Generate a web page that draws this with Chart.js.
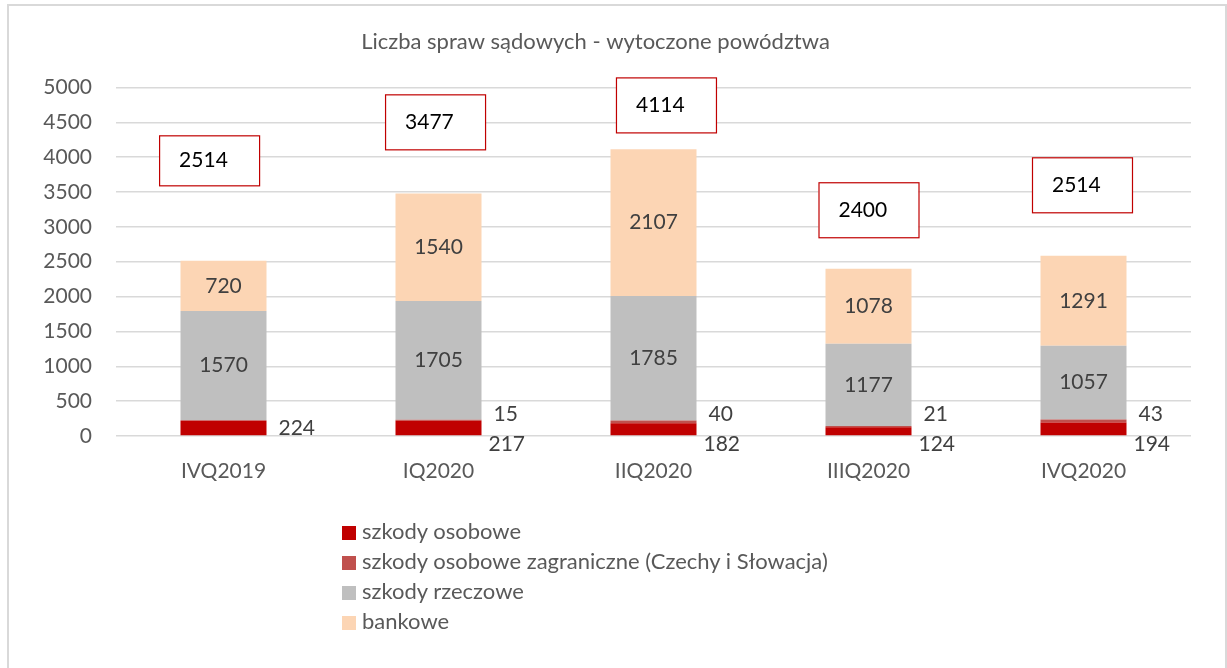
<!DOCTYPE html>
<html>
<head>
<meta charset="utf-8">
<script src="https://cdn.jsdelivr.net/npm/chart.js@4"></script>
<style>
  body { margin: 0; background: #fff; font-family: Lato, sans-serif; }
  #wrap { position: relative; width: 1227px; height: 668px; overflow: hidden; }
  #frame { position: absolute; left: 7px; top: 4px; width: 1216px; height: 700px; border: 2px solid #d9d9d9; }
  #legend { position: absolute; left: 342px; top: 516px; color: #595959; font-size: 22px; }
  #legend div { height: 30px; line-height: 30px; white-space: nowrap; }
  #legend span { display: inline-block; width: 14px; height: 14px; margin-right: 6px; vertical-align: -1px; }
  canvas { position: absolute; left: 0; top: 0; }
</style>
</head>
<body>
<div id="wrap">
  <div id="frame"></div>
  <canvas id="courtChart" width="1227" height="668"></canvas>
  <div id="legend"></div>
</div>
<script>
const quarters = ["IVQ2019", "IQ2020", "IIQ2020", "IIIQ2020", "IVQ2020"];
const personal = [224, 217, 182, 124, 194];
const personalAbroad = [0, 15, 40, 21, 43];
const material = [1570, 1705, 1785, 1177, 1057];
const banking = [720, 1540, 2107, 1078, 1291];
// totals as written in the boxes (last one is 2514 in the source too)
const totalLabels = ["2514", "3477", "4114", "2400", "2514"];
// where the total boxes sit: shift in categories, height in axis units
const boxShift = [-0.067, -0.016, 0.058, 0, -0.007];
const boxLevel = [3954, 4506, 4749, 3245, 3603];

const labelFont = '21px Lato, sans-serif';

const valueLabels = {
    id: 'valueLabels',
    afterDatasetsDraw(chart) {
        const c = chart.ctx;
        const y = chart.scales.y;
        const x = chart.scales.x;
        c.save();
        c.font = labelFont;
        c.fillStyle = '#404040';
        c.textBaseline = 'middle';

        // inner labels for grey and peach parts
        [2, 3].forEach(d => {
            chart.getDatasetMeta(d).data.forEach((bar, i) => {
                c.textAlign = 'center';
                c.fillText(chart.data.datasets[d].data[i], bar.x, (bar.y + bar.base) / 2);
            });
        });

        // red parts get labels beside the bar
        const base = y.getPixelForValue(0);
        chart.getDatasetMeta(0).data.forEach((bar, i) => {
            const right = bar.x + bar.width / 2;
            c.textAlign = 'left';
            if (personalAbroad[i] > 0) {
                c.fillText(personalAbroad[i], right + 12, base - 22);
                c.fillText(personal[i], right + 7, base + 8);
            } else {
                c.fillText(personal[i], right + 12, (bar.y + bar.base) / 2);
            }
        });

        // total boxes
        totalLabels.forEach((t, i) => {
            const cx = x.getPixelForValue(i + boxShift[i]);
            const cy = y.getPixelForValue(boxLevel[i]);
            const w = 100, h = i === 0 ? 50 : 55;
            c.fillStyle = '#fff';
            c.fillRect(cx - w / 2, cy - h / 2, w, h);
            c.strokeStyle = '#c00000';
            c.lineWidth = 1.2;
            c.strokeRect(cx - w / 2 + 0.5, cy - h / 2 + 0.5, w, h);
            c.fillStyle = '#000';
            c.textAlign = 'left';
            c.fillText(t, cx - w / 2 + 20, cy);
        });
        c.restore();
    }
};

const chart = new Chart(document.getElementById('courtChart').getContext('2d'), {
    type: 'bar',
    data: {
        labels: quarters,
        datasets: [
            { label: 'szkody osobowe', data: personal, backgroundColor: '#c00000' },
            { label: 'szkody osobowe zagraniczne (Czechy i Słowacja)', data: personalAbroad, backgroundColor: '#c0504d' },
            { label: 'szkody rzeczowe', data: material, backgroundColor: '#bfbfbf' },
            { label: 'bankowe', data: banking, backgroundColor: '#fcd5b4' }
        ]
    },
    options: {
        responsive: false,
        animation: false,
        layout: { padding: { left: 0, right: 36, top: 0, bottom: 182 } },
        datasets: { bar: { barPercentage: 0.8, categoryPercentage: 0.5 } },
        plugins: {
            legend: { display: false },
            tooltip: { enabled: false },
            title: {
                display: true,
                text: 'Liczba spraw sądowych - wytoczone powództwa',
                color: '#595959',
                font: { family: 'Lato', size: 22, weight: 'normal' },
                padding: { top: 29, bottom: 32 }
            }
        },
        scales: {
            x: {
                stacked: true,
                grid: { display: false },
                border: { display: false },
                ticks: { color: '#595959', font: { family: 'Lato', size: 21 }, padding: 15 },
                afterFit: s => { s.height = 50; }
            },
            y: {
                stacked: true,
                min: 0,
                max: 5000,
                grid: { color: '#d9d9d9', lineWidth: 1.5, drawTicks: false },
                border: { display: false },
                ticks: {
                    stepSize: 500,
                    color: '#595959',
                    font: { family: 'Lato', size: 21 },
                    padding: 24,
                    callback: v => String(v)
                },
                afterFit: s => { s.width = 116; }
            }
        }
    },
    plugins: [valueLabels]
});

// legend stacked one item per row, like the source
const legend = document.getElementById('legend');
chart.data.datasets.forEach(ds => {
    const row = document.createElement('div');
    const sw = document.createElement('span');
    sw.style.background = ds.backgroundColor;
    row.appendChild(sw);
    row.appendChild(document.createTextNode(ds.label));
    legend.appendChild(row);
});
</script>
</body>
</html>
